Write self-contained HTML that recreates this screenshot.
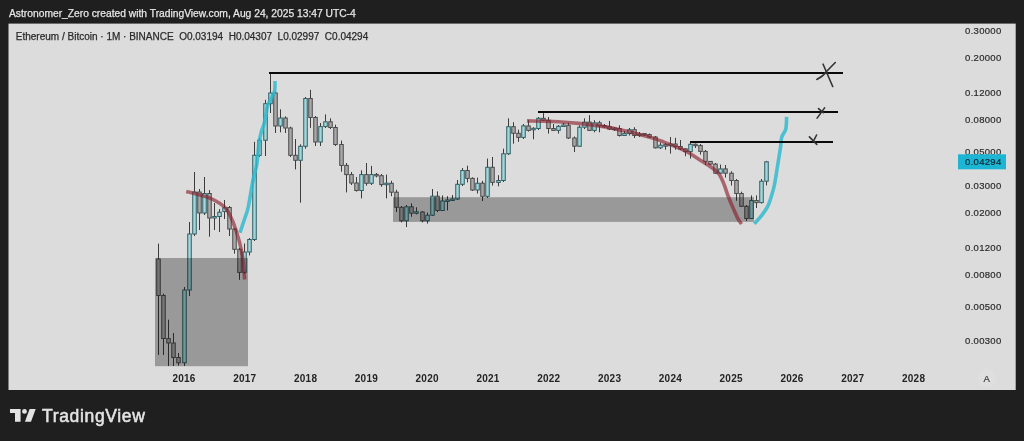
<!DOCTYPE html>
<html><head><meta charset="utf-8"><style>
html,body{margin:0;padding:0;background:#1f1f1f;-webkit-font-smoothing:antialiased;width:1024px;height:441px;overflow:hidden;position:relative;font-family:"Liberation Sans",sans-serif}
.hdr{will-change:transform;position:absolute;left:9px;top:7px;color:#e6e6e6;-webkit-text-stroke:0.25px #e6e6e6;font-size:10.27px;white-space:pre;line-height:14px}
.pl{font-size:9.5px;letter-spacing:0.3px;fill:#2b2b2b;stroke:#2b2b2b;stroke-width:0.2px;font-family:"Liberation Sans",sans-serif}
.yl{font-size:10px;letter-spacing:0.25px;font-weight:bold;fill:#242424;font-family:"Liberation Sans",sans-serif}
.al{font-size:9.6px;fill:#3a3a3a;stroke:#3a3a3a;stroke-width:0.2px;font-family:"Liberation Sans",sans-serif}
.ti{font-size:10px;fill:#2b2b2b;stroke:#2b2b2b;stroke-width:0.25px;white-space:pre;font-family:"Liberation Sans",sans-serif}
.logo{will-change:transform;position:absolute;left:41.8px;top:405px;color:#e3e3e3;font-size:17.5px;font-weight:normal;-webkit-text-stroke:0.55px #e3e3e3;line-height:22px;letter-spacing:0.66px}
</style></head><body>
<div class="hdr">Astronomer_Zero created with TradingView.com, Aug 24, 2025 13:47 UTC-4</div>
<svg width="1024" height="441" style="position:absolute;left:0;top:0;will-change:transform">
<defs><clipPath id="cp"><rect x="8.5" y="23.6" width="1007.2" height="366.4"/></clipPath></defs>
<rect x="8.5" y="23.6" width="1007.2" height="366.4" fill="#dcdcdc"/>
<g clip-path="url(#cp)">
<line x1="158.5" y1="243.6" x2="158.5" y2="355.0" stroke="#3c3c3c" stroke-width="1"/>
<rect x="156.75" y="259.0" width="3.5" height="36.5" fill="#a9a9a9" stroke="#4a4a4a" stroke-width="1"/>
<line x1="163.5" y1="293.6" x2="163.5" y2="355.0" stroke="#3c3c3c" stroke-width="1"/>
<rect x="161.75" y="295.5" width="3.5" height="43.0" fill="#a9a9a9" stroke="#4a4a4a" stroke-width="1"/>
<line x1="168.5" y1="319.7" x2="168.5" y2="366.0" stroke="#3c3c3c" stroke-width="1"/>
<rect x="166.75" y="338.5" width="3.5" height="4.5" fill="#a9a9a9" stroke="#4a4a4a" stroke-width="1"/>
<line x1="173.5" y1="333.0" x2="173.5" y2="366.0" stroke="#3c3c3c" stroke-width="1"/>
<rect x="171.75" y="343.0" width="3.5" height="14.5" fill="#a9a9a9" stroke="#4a4a4a" stroke-width="1"/>
<line x1="178.5" y1="353.0" x2="178.5" y2="365.7" stroke="#3c3c3c" stroke-width="1"/>
<rect x="176.75" y="357.5" width="3.5" height="5.3" fill="#a9a9a9" stroke="#4a4a4a" stroke-width="1"/>
<line x1="184.5" y1="287.0" x2="184.5" y2="366.0" stroke="#3c3c3c" stroke-width="1"/>
<rect x="182.75" y="290.0" width="3.5" height="72.8" fill="#a3d7db" stroke="#2e5f63" stroke-width="1"/>
<line x1="189.5" y1="222.0" x2="189.5" y2="296.0" stroke="#3c3c3c" stroke-width="1"/>
<rect x="187.75" y="234.0" width="3.5" height="56.0" fill="#a3d7db" stroke="#2e5f63" stroke-width="1"/>
<line x1="194.5" y1="172.0" x2="194.5" y2="236.0" stroke="#3c3c3c" stroke-width="1"/>
<rect x="192.75" y="192.0" width="3.5" height="42.0" fill="#a3d7db" stroke="#2e5f63" stroke-width="1"/>
<line x1="199.5" y1="189.0" x2="199.5" y2="230.0" stroke="#3c3c3c" stroke-width="1"/>
<rect x="197.75" y="192.0" width="3.5" height="21.0" fill="#a9a9a9" stroke="#4a4a4a" stroke-width="1"/>
<line x1="204.5" y1="177.0" x2="204.5" y2="215.0" stroke="#3c3c3c" stroke-width="1"/>
<rect x="202.75" y="193.5" width="3.5" height="19.5" fill="#a3d7db" stroke="#2e5f63" stroke-width="1"/>
<line x1="209.5" y1="190.0" x2="209.5" y2="236.7" stroke="#3c3c3c" stroke-width="1"/>
<rect x="207.75" y="193.5" width="3.5" height="24.5" fill="#a9a9a9" stroke="#4a4a4a" stroke-width="1"/>
<line x1="214.5" y1="203.0" x2="214.5" y2="230.0" stroke="#3c3c3c" stroke-width="1"/>
<rect x="212.75" y="216.5" width="3.5" height="1.5" fill="#a3d7db" stroke="#2e5f63" stroke-width="1"/>
<line x1="219.5" y1="209.0" x2="219.5" y2="232.0" stroke="#3c3c3c" stroke-width="1"/>
<rect x="217.75" y="212.2" width="3.5" height="4.3" fill="#a3d7db" stroke="#2e5f63" stroke-width="1"/>
<line x1="224.5" y1="200.0" x2="224.5" y2="219.0" stroke="#3c3c3c" stroke-width="1"/>
<rect x="222.75" y="207.8" width="3.5" height="3.6" fill="#a3d7db" stroke="#2e5f63" stroke-width="1"/>
<line x1="229.5" y1="206.0" x2="229.5" y2="236.0" stroke="#3c3c3c" stroke-width="1"/>
<rect x="227.75" y="207.5" width="3.5" height="21.5" fill="#a9a9a9" stroke="#4a4a4a" stroke-width="1"/>
<line x1="234.5" y1="228.0" x2="234.5" y2="253.7" stroke="#3c3c3c" stroke-width="1"/>
<rect x="232.75" y="229.0" width="3.5" height="20.3" fill="#a9a9a9" stroke="#4a4a4a" stroke-width="1"/>
<line x1="239.5" y1="248.0" x2="239.5" y2="279.8" stroke="#3c3c3c" stroke-width="1"/>
<rect x="237.75" y="249.3" width="3.5" height="23.1" fill="#a9a9a9" stroke="#4a4a4a" stroke-width="1"/>
<line x1="244.5" y1="243.5" x2="244.5" y2="274.0" stroke="#3c3c3c" stroke-width="1"/>
<rect x="242.75" y="252.0" width="3.5" height="20.4" fill="#a3d7db" stroke="#2e5f63" stroke-width="1"/>
<line x1="249.5" y1="238.0" x2="249.5" y2="255.4" stroke="#3c3c3c" stroke-width="1"/>
<rect x="247.75" y="239.5" width="3.5" height="12.5" fill="#a3d7db" stroke="#2e5f63" stroke-width="1"/>
<line x1="254.5" y1="141.8" x2="254.5" y2="241.0" stroke="#3c3c3c" stroke-width="1"/>
<rect x="252.75" y="155.3" width="3.5" height="84.2" fill="#a3d7db" stroke="#2e5f63" stroke-width="1"/>
<line x1="259.5" y1="138.0" x2="259.5" y2="157.0" stroke="#3c3c3c" stroke-width="1"/>
<rect x="257.75" y="140.2" width="3.5" height="15.1" fill="#a3d7db" stroke="#2e5f63" stroke-width="1"/>
<line x1="265.5" y1="99.8" x2="265.5" y2="156.0" stroke="#3c3c3c" stroke-width="1"/>
<rect x="263.75" y="103.7" width="3.5" height="36.5" fill="#a3d7db" stroke="#2e5f63" stroke-width="1"/>
<line x1="270.5" y1="73.0" x2="270.5" y2="113.0" stroke="#3c3c3c" stroke-width="1"/>
<rect x="268.75" y="93.0" width="3.5" height="10.7" fill="#a3d7db" stroke="#2e5f63" stroke-width="1"/>
<line x1="275.5" y1="91.0" x2="275.5" y2="133.0" stroke="#3c3c3c" stroke-width="1"/>
<rect x="273.75" y="93.0" width="3.5" height="33.0" fill="#a9a9a9" stroke="#4a4a4a" stroke-width="1"/>
<line x1="280.5" y1="109.3" x2="280.5" y2="132.3" stroke="#3c3c3c" stroke-width="1"/>
<rect x="278.75" y="118.0" width="3.5" height="8.0" fill="#a3d7db" stroke="#2e5f63" stroke-width="1"/>
<line x1="285.5" y1="116.4" x2="285.5" y2="133.0" stroke="#3c3c3c" stroke-width="1"/>
<rect x="283.75" y="118.0" width="3.5" height="10.0" fill="#a9a9a9" stroke="#4a4a4a" stroke-width="1"/>
<line x1="290.5" y1="126.7" x2="290.5" y2="157.0" stroke="#3c3c3c" stroke-width="1"/>
<rect x="288.75" y="128.0" width="3.5" height="27.3" fill="#a9a9a9" stroke="#4a4a4a" stroke-width="1"/>
<line x1="295.5" y1="139.0" x2="295.5" y2="169.4" stroke="#3c3c3c" stroke-width="1"/>
<rect x="293.75" y="155.3" width="3.5" height="5.0" fill="#a9a9a9" stroke="#4a4a4a" stroke-width="1"/>
<line x1="300.5" y1="144.4" x2="300.5" y2="202.7" stroke="#3c3c3c" stroke-width="1"/>
<rect x="298.75" y="146.3" width="3.5" height="14.0" fill="#a3d7db" stroke="#2e5f63" stroke-width="1"/>
<line x1="305.5" y1="97.0" x2="305.5" y2="148.7" stroke="#3c3c3c" stroke-width="1"/>
<rect x="303.75" y="98.5" width="3.5" height="47.8" fill="#a3d7db" stroke="#2e5f63" stroke-width="1"/>
<line x1="310.5" y1="89.8" x2="310.5" y2="127.9" stroke="#3c3c3c" stroke-width="1"/>
<rect x="308.75" y="98.5" width="3.5" height="19.0" fill="#a9a9a9" stroke="#4a4a4a" stroke-width="1"/>
<line x1="315.5" y1="116.0" x2="315.5" y2="146.0" stroke="#3c3c3c" stroke-width="1"/>
<rect x="313.75" y="117.5" width="3.5" height="24.5" fill="#a9a9a9" stroke="#4a4a4a" stroke-width="1"/>
<line x1="320.5" y1="123.0" x2="320.5" y2="146.0" stroke="#3c3c3c" stroke-width="1"/>
<rect x="318.75" y="126.6" width="3.5" height="15.4" fill="#a3d7db" stroke="#2e5f63" stroke-width="1"/>
<line x1="325.5" y1="114.4" x2="325.5" y2="128.0" stroke="#3c3c3c" stroke-width="1"/>
<rect x="323.75" y="121.8" width="3.5" height="4.8" fill="#a3d7db" stroke="#2e5f63" stroke-width="1"/>
<line x1="330.5" y1="118.3" x2="330.5" y2="129.0" stroke="#3c3c3c" stroke-width="1"/>
<rect x="328.75" y="121.8" width="3.5" height="5.7" fill="#a9a9a9" stroke="#4a4a4a" stroke-width="1"/>
<line x1="335.5" y1="124.7" x2="335.5" y2="146.0" stroke="#3c3c3c" stroke-width="1"/>
<rect x="333.75" y="127.5" width="3.5" height="17.0" fill="#a9a9a9" stroke="#4a4a4a" stroke-width="1"/>
<line x1="341.5" y1="140.6" x2="341.5" y2="171.7" stroke="#3c3c3c" stroke-width="1"/>
<rect x="339.75" y="144.5" width="3.5" height="20.9" fill="#a9a9a9" stroke="#4a4a4a" stroke-width="1"/>
<line x1="346.5" y1="163.0" x2="346.5" y2="192.4" stroke="#3c3c3c" stroke-width="1"/>
<rect x="344.75" y="165.4" width="3.5" height="9.2" fill="#a9a9a9" stroke="#4a4a4a" stroke-width="1"/>
<line x1="351.5" y1="172.0" x2="351.5" y2="185.0" stroke="#3c3c3c" stroke-width="1"/>
<rect x="349.75" y="174.6" width="3.5" height="8.4" fill="#a9a9a9" stroke="#4a4a4a" stroke-width="1"/>
<line x1="356.5" y1="177.0" x2="356.5" y2="191.6" stroke="#3c3c3c" stroke-width="1"/>
<rect x="354.75" y="183.0" width="3.5" height="7.5" fill="#a9a9a9" stroke="#4a4a4a" stroke-width="1"/>
<line x1="361.5" y1="170.3" x2="361.5" y2="198.4" stroke="#3c3c3c" stroke-width="1"/>
<rect x="359.75" y="174.6" width="3.5" height="15.9" fill="#a3d7db" stroke="#2e5f63" stroke-width="1"/>
<line x1="366.5" y1="163.0" x2="366.5" y2="185.7" stroke="#3c3c3c" stroke-width="1"/>
<rect x="364.75" y="174.6" width="3.5" height="8.7" fill="#a9a9a9" stroke="#4a4a4a" stroke-width="1"/>
<line x1="371.5" y1="165.9" x2="371.5" y2="185.0" stroke="#3c3c3c" stroke-width="1"/>
<rect x="369.75" y="174.6" width="3.5" height="8.7" fill="#a3d7db" stroke="#2e5f63" stroke-width="1"/>
<line x1="376.5" y1="173.0" x2="376.5" y2="177.3" stroke="#3c3c3c" stroke-width="1"/>
<rect x="374.75" y="174.4" width="3.5" height="1.5" fill="#a9a9a9" stroke="#4a4a4a" stroke-width="1"/>
<line x1="381.5" y1="174.0" x2="381.5" y2="186.8" stroke="#3c3c3c" stroke-width="1"/>
<rect x="379.75" y="175.7" width="3.5" height="8.9" fill="#a9a9a9" stroke="#4a4a4a" stroke-width="1"/>
<line x1="386.5" y1="174.6" x2="386.5" y2="198.4" stroke="#3c3c3c" stroke-width="1"/>
<rect x="384.75" y="183.2" width="3.5" height="1.5" fill="#a3d7db" stroke="#2e5f63" stroke-width="1"/>
<line x1="391.5" y1="180.8" x2="391.5" y2="196.2" stroke="#3c3c3c" stroke-width="1"/>
<rect x="389.75" y="183.3" width="3.5" height="8.9" fill="#a9a9a9" stroke="#4a4a4a" stroke-width="1"/>
<line x1="396.5" y1="189.8" x2="396.5" y2="212.0" stroke="#3c3c3c" stroke-width="1"/>
<rect x="394.75" y="192.2" width="3.5" height="15.1" fill="#a9a9a9" stroke="#4a4a4a" stroke-width="1"/>
<line x1="401.5" y1="206.0" x2="401.5" y2="222.4" stroke="#3c3c3c" stroke-width="1"/>
<rect x="399.75" y="207.3" width="3.5" height="13.5" fill="#a9a9a9" stroke="#4a4a4a" stroke-width="1"/>
<line x1="406.5" y1="205.0" x2="406.5" y2="227.1" stroke="#3c3c3c" stroke-width="1"/>
<rect x="404.75" y="206.8" width="3.5" height="14.0" fill="#a3d7db" stroke="#2e5f63" stroke-width="1"/>
<line x1="411.5" y1="203.3" x2="411.5" y2="216.8" stroke="#3c3c3c" stroke-width="1"/>
<rect x="409.75" y="206.8" width="3.5" height="6.4" fill="#a9a9a9" stroke="#4a4a4a" stroke-width="1"/>
<line x1="416.5" y1="207.3" x2="416.5" y2="214.4" stroke="#3c3c3c" stroke-width="1"/>
<rect x="414.75" y="211.8" width="3.5" height="1.5" fill="#a3d7db" stroke="#2e5f63" stroke-width="1"/>
<line x1="422.5" y1="211.0" x2="422.5" y2="222.4" stroke="#3c3c3c" stroke-width="1"/>
<rect x="420.75" y="212.0" width="3.5" height="8.8" fill="#a9a9a9" stroke="#4a4a4a" stroke-width="1"/>
<line x1="427.5" y1="212.5" x2="427.5" y2="223.6" stroke="#3c3c3c" stroke-width="1"/>
<rect x="425.75" y="215.2" width="3.5" height="5.6" fill="#a3d7db" stroke="#2e5f63" stroke-width="1"/>
<line x1="432.5" y1="189.0" x2="432.5" y2="216.0" stroke="#3c3c3c" stroke-width="1"/>
<rect x="430.75" y="196.2" width="3.5" height="19.0" fill="#a3d7db" stroke="#2e5f63" stroke-width="1"/>
<line x1="437.5" y1="191.4" x2="437.5" y2="212.0" stroke="#3c3c3c" stroke-width="1"/>
<rect x="435.75" y="196.2" width="3.5" height="14.3" fill="#a9a9a9" stroke="#4a4a4a" stroke-width="1"/>
<line x1="442.5" y1="195.4" x2="442.5" y2="211.0" stroke="#3c3c3c" stroke-width="1"/>
<rect x="440.75" y="201.0" width="3.5" height="9.5" fill="#a3d7db" stroke="#2e5f63" stroke-width="1"/>
<line x1="447.5" y1="196.2" x2="447.5" y2="210.5" stroke="#3c3c3c" stroke-width="1"/>
<rect x="445.75" y="200.0" width="3.5" height="1.5" fill="#a3d7db" stroke="#2e5f63" stroke-width="1"/>
<line x1="452.5" y1="195.0" x2="452.5" y2="201.0" stroke="#3c3c3c" stroke-width="1"/>
<rect x="450.75" y="199.0" width="3.5" height="1.5" fill="#a3d7db" stroke="#2e5f63" stroke-width="1"/>
<line x1="457.5" y1="180.0" x2="457.5" y2="200.0" stroke="#3c3c3c" stroke-width="1"/>
<rect x="455.75" y="184.3" width="3.5" height="14.7" fill="#a3d7db" stroke="#2e5f63" stroke-width="1"/>
<line x1="462.5" y1="168.0" x2="462.5" y2="186.0" stroke="#3c3c3c" stroke-width="1"/>
<rect x="460.75" y="170.5" width="3.5" height="13.8" fill="#a3d7db" stroke="#2e5f63" stroke-width="1"/>
<line x1="467.5" y1="165.7" x2="467.5" y2="182.4" stroke="#3c3c3c" stroke-width="1"/>
<rect x="465.75" y="170.5" width="3.5" height="7.9" fill="#a9a9a9" stroke="#4a4a4a" stroke-width="1"/>
<line x1="472.5" y1="177.3" x2="472.5" y2="191.0" stroke="#3c3c3c" stroke-width="1"/>
<rect x="470.75" y="178.4" width="3.5" height="11.6" fill="#a9a9a9" stroke="#4a4a4a" stroke-width="1"/>
<line x1="477.5" y1="177.6" x2="477.5" y2="193.5" stroke="#3c3c3c" stroke-width="1"/>
<rect x="475.75" y="183.2" width="3.5" height="6.8" fill="#a3d7db" stroke="#2e5f63" stroke-width="1"/>
<line x1="482.5" y1="180.8" x2="482.5" y2="201.0" stroke="#3c3c3c" stroke-width="1"/>
<rect x="480.75" y="183.2" width="3.5" height="13.1" fill="#a9a9a9" stroke="#4a4a4a" stroke-width="1"/>
<line x1="487.5" y1="158.6" x2="487.5" y2="198.0" stroke="#3c3c3c" stroke-width="1"/>
<rect x="485.75" y="167.3" width="3.5" height="29.0" fill="#a3d7db" stroke="#2e5f63" stroke-width="1"/>
<line x1="492.5" y1="157.0" x2="492.5" y2="185.6" stroke="#3c3c3c" stroke-width="1"/>
<rect x="490.75" y="167.3" width="3.5" height="15.1" fill="#a9a9a9" stroke="#4a4a4a" stroke-width="1"/>
<line x1="498.5" y1="175.2" x2="498.5" y2="186.3" stroke="#3c3c3c" stroke-width="1"/>
<rect x="496.75" y="180.5" width="3.5" height="1.9" fill="#a3d7db" stroke="#2e5f63" stroke-width="1"/>
<line x1="503.5" y1="148.7" x2="503.5" y2="182.0" stroke="#3c3c3c" stroke-width="1"/>
<rect x="501.75" y="153.8" width="3.5" height="26.7" fill="#a3d7db" stroke="#2e5f63" stroke-width="1"/>
<line x1="508.5" y1="118.3" x2="508.5" y2="155.0" stroke="#3c3c3c" stroke-width="1"/>
<rect x="506.75" y="126.7" width="3.5" height="27.1" fill="#a3d7db" stroke="#2e5f63" stroke-width="1"/>
<line x1="513.5" y1="122.2" x2="513.5" y2="143.7" stroke="#3c3c3c" stroke-width="1"/>
<rect x="511.75" y="126.7" width="3.5" height="6.6" fill="#a9a9a9" stroke="#4a4a4a" stroke-width="1"/>
<line x1="518.5" y1="129.7" x2="518.5" y2="141.8" stroke="#3c3c3c" stroke-width="1"/>
<rect x="516.75" y="133.3" width="3.5" height="4.1" fill="#a9a9a9" stroke="#4a4a4a" stroke-width="1"/>
<line x1="523.5" y1="124.0" x2="523.5" y2="139.0" stroke="#3c3c3c" stroke-width="1"/>
<rect x="521.75" y="125.9" width="3.5" height="11.5" fill="#a3d7db" stroke="#2e5f63" stroke-width="1"/>
<line x1="528.5" y1="120.2" x2="528.5" y2="131.6" stroke="#3c3c3c" stroke-width="1"/>
<rect x="526.75" y="125.9" width="3.5" height="4.5" fill="#a9a9a9" stroke="#4a4a4a" stroke-width="1"/>
<line x1="533.5" y1="127.2" x2="533.5" y2="139.3" stroke="#3c3c3c" stroke-width="1"/>
<rect x="531.75" y="128.3" width="3.5" height="1.5" fill="#a3d7db" stroke="#2e5f63" stroke-width="1"/>
<line x1="538.5" y1="117.0" x2="538.5" y2="130.0" stroke="#3c3c3c" stroke-width="1"/>
<rect x="536.75" y="118.3" width="3.5" height="10.2" fill="#a3d7db" stroke="#2e5f63" stroke-width="1"/>
<line x1="543.5" y1="113.2" x2="543.5" y2="121.0" stroke="#3c3c3c" stroke-width="1"/>
<rect x="541.75" y="118.3" width="3.5" height="1.9" fill="#a9a9a9" stroke="#4a4a4a" stroke-width="1"/>
<line x1="548.5" y1="117.0" x2="548.5" y2="133.6" stroke="#3c3c3c" stroke-width="1"/>
<rect x="546.75" y="120.2" width="3.5" height="8.3" fill="#a9a9a9" stroke="#4a4a4a" stroke-width="1"/>
<line x1="553.5" y1="124.0" x2="553.5" y2="131.0" stroke="#3c3c3c" stroke-width="1"/>
<rect x="551.75" y="128.5" width="3.5" height="1.9" fill="#a9a9a9" stroke="#4a4a4a" stroke-width="1"/>
<line x1="558.5" y1="125.0" x2="558.5" y2="133.6" stroke="#3c3c3c" stroke-width="1"/>
<rect x="556.75" y="126.3" width="3.5" height="4.1" fill="#a3d7db" stroke="#2e5f63" stroke-width="1"/>
<line x1="563.5" y1="123.0" x2="563.5" y2="127.0" stroke="#3c3c3c" stroke-width="1"/>
<rect x="561.75" y="125.0" width="3.5" height="1.5" fill="#a3d7db" stroke="#2e5f63" stroke-width="1"/>
<line x1="568.5" y1="122.8" x2="568.5" y2="139.0" stroke="#3c3c3c" stroke-width="1"/>
<rect x="566.75" y="125.3" width="3.5" height="12.7" fill="#a9a9a9" stroke="#4a4a4a" stroke-width="1"/>
<line x1="574.5" y1="136.5" x2="574.5" y2="152.0" stroke="#3c3c3c" stroke-width="1"/>
<rect x="572.75" y="138.0" width="3.5" height="8.2" fill="#a9a9a9" stroke="#4a4a4a" stroke-width="1"/>
<line x1="579.5" y1="125.4" x2="579.5" y2="147.0" stroke="#3c3c3c" stroke-width="1"/>
<rect x="577.75" y="127.2" width="3.5" height="19.0" fill="#a3d7db" stroke="#2e5f63" stroke-width="1"/>
<line x1="584.5" y1="118.3" x2="584.5" y2="129.1" stroke="#3c3c3c" stroke-width="1"/>
<rect x="582.75" y="122.1" width="3.5" height="5.1" fill="#a3d7db" stroke="#2e5f63" stroke-width="1"/>
<line x1="589.5" y1="115.2" x2="589.5" y2="131.0" stroke="#3c3c3c" stroke-width="1"/>
<rect x="587.75" y="122.1" width="3.5" height="8.3" fill="#a9a9a9" stroke="#4a4a4a" stroke-width="1"/>
<line x1="594.5" y1="120.2" x2="594.5" y2="132.3" stroke="#3c3c3c" stroke-width="1"/>
<rect x="592.75" y="122.8" width="3.5" height="7.6" fill="#a3d7db" stroke="#2e5f63" stroke-width="1"/>
<line x1="599.5" y1="120.9" x2="599.5" y2="132.3" stroke="#3c3c3c" stroke-width="1"/>
<rect x="597.75" y="122.8" width="3.5" height="3.1" fill="#a9a9a9" stroke="#4a4a4a" stroke-width="1"/>
<line x1="604.5" y1="124.0" x2="604.5" y2="127.5" stroke="#3c3c3c" stroke-width="1"/>
<rect x="602.75" y="125.5" width="3.5" height="1.5" fill="#a9a9a9" stroke="#4a4a4a" stroke-width="1"/>
<line x1="609.5" y1="120.9" x2="609.5" y2="130.0" stroke="#3c3c3c" stroke-width="1"/>
<rect x="607.75" y="126.6" width="3.5" height="2.5" fill="#a9a9a9" stroke="#4a4a4a" stroke-width="1"/>
<line x1="614.5" y1="127.0" x2="614.5" y2="131.0" stroke="#3c3c3c" stroke-width="1"/>
<rect x="612.75" y="128.1" width="3.5" height="1.5" fill="#a3d7db" stroke="#2e5f63" stroke-width="1"/>
<line x1="619.5" y1="125.3" x2="619.5" y2="136.5" stroke="#3c3c3c" stroke-width="1"/>
<rect x="617.75" y="128.5" width="3.5" height="7.0" fill="#a9a9a9" stroke="#4a4a4a" stroke-width="1"/>
<line x1="624.5" y1="131.0" x2="624.5" y2="136.0" stroke="#3c3c3c" stroke-width="1"/>
<rect x="622.75" y="133.6" width="3.5" height="1.9" fill="#a3d7db" stroke="#2e5f63" stroke-width="1"/>
<line x1="629.5" y1="128.0" x2="629.5" y2="135.5" stroke="#3c3c3c" stroke-width="1"/>
<rect x="627.75" y="129.7" width="3.5" height="3.9" fill="#a3d7db" stroke="#2e5f63" stroke-width="1"/>
<line x1="634.5" y1="127.2" x2="634.5" y2="138.0" stroke="#3c3c3c" stroke-width="1"/>
<rect x="632.75" y="129.7" width="3.5" height="5.8" fill="#a9a9a9" stroke="#4a4a4a" stroke-width="1"/>
<line x1="639.5" y1="132.0" x2="639.5" y2="137.0" stroke="#3c3c3c" stroke-width="1"/>
<rect x="637.75" y="134.0" width="3.5" height="1.5" fill="#a3d7db" stroke="#2e5f63" stroke-width="1"/>
<line x1="644.5" y1="133.0" x2="644.5" y2="136.0" stroke="#3c3c3c" stroke-width="1"/>
<rect x="642.75" y="133.6" width="3.5" height="1.5" fill="#a9a9a9" stroke="#4a4a4a" stroke-width="1"/>
<line x1="649.5" y1="133.5" x2="649.5" y2="138.0" stroke="#3c3c3c" stroke-width="1"/>
<rect x="647.75" y="134.6" width="3.5" height="2.4" fill="#a9a9a9" stroke="#4a4a4a" stroke-width="1"/>
<line x1="655.5" y1="136.0" x2="655.5" y2="148.5" stroke="#3c3c3c" stroke-width="1"/>
<rect x="653.75" y="137.0" width="3.5" height="10.8" fill="#a9a9a9" stroke="#4a4a4a" stroke-width="1"/>
<line x1="660.5" y1="142.5" x2="660.5" y2="149.0" stroke="#3c3c3c" stroke-width="1"/>
<rect x="658.75" y="145.2" width="3.5" height="2.6" fill="#a3d7db" stroke="#2e5f63" stroke-width="1"/>
<line x1="665.5" y1="143.0" x2="665.5" y2="149.7" stroke="#3c3c3c" stroke-width="1"/>
<rect x="663.75" y="144.7" width="3.5" height="1.5" fill="#a9a9a9" stroke="#4a4a4a" stroke-width="1"/>
<line x1="670.5" y1="137.0" x2="670.5" y2="153.6" stroke="#3c3c3c" stroke-width="1"/>
<rect x="668.75" y="144.0" width="3.5" height="1.7" fill="#a3d7db" stroke="#2e5f63" stroke-width="1"/>
<line x1="675.5" y1="137.8" x2="675.5" y2="149.7" stroke="#3c3c3c" stroke-width="1"/>
<rect x="673.75" y="144.0" width="3.5" height="2.5" fill="#a9a9a9" stroke="#4a4a4a" stroke-width="1"/>
<line x1="680.5" y1="140.0" x2="680.5" y2="150.0" stroke="#3c3c3c" stroke-width="1"/>
<rect x="678.75" y="146.5" width="3.5" height="2.4" fill="#a9a9a9" stroke="#4a4a4a" stroke-width="1"/>
<line x1="685.5" y1="148.3" x2="685.5" y2="156.2" stroke="#3c3c3c" stroke-width="1"/>
<rect x="683.75" y="148.9" width="3.5" height="2.7" fill="#a9a9a9" stroke="#4a4a4a" stroke-width="1"/>
<line x1="690.5" y1="143.0" x2="690.5" y2="158.6" stroke="#3c3c3c" stroke-width="1"/>
<rect x="688.75" y="144.3" width="3.5" height="7.3" fill="#a3d7db" stroke="#2e5f63" stroke-width="1"/>
<line x1="695.5" y1="143.5" x2="695.5" y2="148.0" stroke="#3c3c3c" stroke-width="1"/>
<rect x="693.75" y="144.2" width="3.5" height="1.5" fill="#a9a9a9" stroke="#4a4a4a" stroke-width="1"/>
<line x1="700.5" y1="144.0" x2="700.5" y2="154.6" stroke="#3c3c3c" stroke-width="1"/>
<rect x="698.75" y="145.6" width="3.5" height="5.8" fill="#a9a9a9" stroke="#4a4a4a" stroke-width="1"/>
<line x1="705.5" y1="150.0" x2="705.5" y2="165.0" stroke="#3c3c3c" stroke-width="1"/>
<rect x="703.75" y="151.4" width="3.5" height="10.0" fill="#a9a9a9" stroke="#4a4a4a" stroke-width="1"/>
<line x1="710.5" y1="161.0" x2="710.5" y2="165.0" stroke="#3c3c3c" stroke-width="1"/>
<rect x="708.75" y="161.4" width="3.5" height="2.7" fill="#a9a9a9" stroke="#4a4a4a" stroke-width="1"/>
<line x1="715.5" y1="163.0" x2="715.5" y2="174.0" stroke="#3c3c3c" stroke-width="1"/>
<rect x="713.75" y="164.1" width="3.5" height="9.1" fill="#a9a9a9" stroke="#4a4a4a" stroke-width="1"/>
<line x1="720.5" y1="164.6" x2="720.5" y2="174.0" stroke="#3c3c3c" stroke-width="1"/>
<rect x="718.75" y="168.9" width="3.5" height="4.3" fill="#a3d7db" stroke="#2e5f63" stroke-width="1"/>
<line x1="725.5" y1="165.0" x2="725.5" y2="177.6" stroke="#3c3c3c" stroke-width="1"/>
<rect x="723.75" y="168.9" width="3.5" height="4.3" fill="#a9a9a9" stroke="#4a4a4a" stroke-width="1"/>
<line x1="731.5" y1="171.3" x2="731.5" y2="185.6" stroke="#3c3c3c" stroke-width="1"/>
<rect x="729.75" y="173.2" width="3.5" height="7.3" fill="#a9a9a9" stroke="#4a4a4a" stroke-width="1"/>
<line x1="736.5" y1="179.0" x2="736.5" y2="200.8" stroke="#3c3c3c" stroke-width="1"/>
<rect x="734.75" y="180.5" width="3.5" height="13.0" fill="#a9a9a9" stroke="#4a4a4a" stroke-width="1"/>
<line x1="741.5" y1="191.7" x2="741.5" y2="207.0" stroke="#3c3c3c" stroke-width="1"/>
<rect x="739.75" y="193.5" width="3.5" height="12.8" fill="#a9a9a9" stroke="#4a4a4a" stroke-width="1"/>
<line x1="746.5" y1="205.0" x2="746.5" y2="221.0" stroke="#3c3c3c" stroke-width="1"/>
<rect x="744.75" y="206.3" width="3.5" height="12.2" fill="#a9a9a9" stroke="#4a4a4a" stroke-width="1"/>
<line x1="751.5" y1="195.4" x2="751.5" y2="219.0" stroke="#3c3c3c" stroke-width="1"/>
<rect x="749.75" y="200.5" width="3.5" height="18.0" fill="#a3d7db" stroke="#2e5f63" stroke-width="1"/>
<line x1="756.5" y1="195.4" x2="756.5" y2="208.0" stroke="#3c3c3c" stroke-width="1"/>
<rect x="754.75" y="200.5" width="3.5" height="2.1" fill="#a9a9a9" stroke="#4a4a4a" stroke-width="1"/>
<line x1="761.5" y1="179.0" x2="761.5" y2="203.5" stroke="#3c3c3c" stroke-width="1"/>
<rect x="759.75" y="181.2" width="3.5" height="21.4" fill="#a3d7db" stroke="#2e5f63" stroke-width="1"/>
<line x1="766.5" y1="160.9" x2="766.5" y2="185.4" stroke="#3c3c3c" stroke-width="1"/>
<rect x="764.75" y="161.8" width="3.5" height="19.4" fill="#a3d7db" stroke="#2e5f63" stroke-width="1"/>
<rect x="155" y="258" width="93" height="108.2" fill="rgba(0,0,0,0.30)"/>
<rect x="393" y="197.2" width="361" height="24.7" fill="rgba(0,0,0,0.30)"/>
<path d="M186.2,191.5 C188.2,192.0 194.2,193.4 198.2,194.5 C202.2,195.6 206.4,196.7 210.0,198.2 C213.6,199.7 217.2,201.8 220.0,203.6 C222.8,205.4 224.3,206.1 226.5,209.2 C228.7,212.3 230.9,216.6 233.0,222.0 C235.1,227.4 237.7,235.2 239.3,241.4 C241.0,247.7 242.0,253.2 242.9,259.5 C243.8,265.9 244.4,276.2 244.7,279.5" fill="none" stroke="rgba(135,28,40,0.62)" stroke-width="3.6" stroke-linecap="butt"/>
<path d="M527,120.9 C531.3,121.0 544.4,121.1 553.0,121.5 C561.6,121.9 570.0,122.6 578.5,123.4 C587.0,124.2 595.2,125.2 603.8,126.6 C612.4,128.0 623.8,130.6 630.0,132.0 C636.2,133.4 637.5,134.0 641.3,135.0 C645.1,136.0 648.9,136.9 652.7,138.1 C656.5,139.3 660.2,140.7 664.0,142.1 C667.8,143.5 671.6,145.0 675.4,146.6 C679.2,148.2 682.3,149.3 686.7,151.7 C691.1,154.1 697.5,158.4 701.6,161.0 C705.7,163.6 708.3,165.0 711.2,167.2 C714.1,169.3 716.8,171.2 718.9,173.9 C721.0,176.6 722.1,179.7 723.7,183.5 C725.3,187.3 726.9,192.8 728.5,197.0 C730.1,201.2 731.8,204.9 733.4,208.6 C735.0,212.3 736.8,216.6 738.2,219.2 C739.6,221.8 741.0,223.2 741.6,224.0" fill="none" stroke="rgba(135,28,40,0.62)" stroke-width="3.6" stroke-linecap="butt"/>
<path d="M240,232.7 C240.7,230.6 242.8,224.2 244.2,220.0 C245.6,215.8 246.8,213.7 248.2,207.3 C249.6,200.9 251.3,188.9 252.7,181.8 C254.1,174.8 255.8,169.4 256.7,165.0 C257.6,160.6 257.4,159.0 257.8,155.3 C258.2,151.6 258.4,146.6 259.0,142.6 C259.6,138.6 260.6,134.6 261.4,131.5 C262.2,128.4 263.2,126.8 264.0,124.0 C264.8,121.2 265.4,118.0 266.0,115.0 C266.6,112.0 266.7,108.7 267.5,106.0 C268.3,103.3 269.8,101.5 271.0,99.0 C272.2,96.5 273.9,94.0 274.6,91.0 C275.3,88.0 274.9,82.7 275.0,81.0" fill="none" stroke="rgba(40,185,205,0.8)" stroke-width="3.6" stroke-linecap="butt"/>
<path d="M754.4,223.8 C755.6,222.4 759.3,218.5 761.5,215.6 C763.7,212.7 766.0,209.8 767.7,206.4 C769.4,203.0 770.6,198.8 771.7,195.2 C772.8,191.5 773.5,189.5 774.5,184.5 C775.5,179.5 776.7,171.1 777.7,165.0 C778.7,158.9 779.7,152.7 780.4,148.1 C781.1,143.5 780.8,140.4 781.7,137.2 C782.6,134.0 785.0,132.4 785.8,129.0 C786.6,125.6 786.5,118.8 786.6,116.8" fill="none" stroke="rgba(40,185,205,0.8)" stroke-width="3.6" stroke-linecap="butt"/>
<line x1="269" y1="73" x2="843" y2="73" stroke="#0a0a0a" stroke-width="2"/>
<line x1="538" y1="112" x2="838" y2="112" stroke="#0a0a0a" stroke-width="2"/>
<line x1="690" y1="142" x2="833" y2="142" stroke="#0a0a0a" stroke-width="2"/>
<g stroke="#333" stroke-width="1.6" fill="none" stroke-linecap="round">
<path d="M823.1,64.2 L832.7,86.5"/>
<path d="M816.8,79.5 Q823,76.5 826.5,71.5 L835.3,62.5"/>
<path d="M817.1,118.1 L824.6,107.9"/>
<path d="M818.5,108.6 L823.3,112.7"/>
<path d="M809.4,136.9 L816.8,144.4"/>
<path d="M813.4,141.1 L816.6,135"/>
</g>
<text x="1001.5" y="34.1" text-anchor="end" class="pl">0.30000</text><text x="1001.5" y="61.4" text-anchor="end" class="pl">0.20000</text><text x="1001.5" y="95.8" text-anchor="end" class="pl">0.12000</text><text x="1001.5" y="123.1" text-anchor="end" class="pl">0.08000</text><text x="1001.5" y="154.7" text-anchor="end" class="pl">0.05000</text><text x="1001.5" y="189.1" text-anchor="end" class="pl">0.03000</text><text x="1001.5" y="216.4" text-anchor="end" class="pl">0.02000</text><text x="1001.5" y="250.8" text-anchor="end" class="pl">0.01200</text><text x="1001.5" y="278.1" text-anchor="end" class="pl">0.00800</text><text x="1001.5" y="309.7" text-anchor="end" class="pl">0.00500</text><text x="1001.5" y="344.1" text-anchor="end" class="pl">0.00300</text>
<rect x="958" y="154.3" width="48" height="15" fill="#1cb5d3"/>
<text x="1001.5" y="165.0" text-anchor="end" class="pl" style="fill:#0a2630;stroke:#0a2630">0.04294</text>
<text x="184.0" y="381.7" text-anchor="middle" class="yl">2016</text><text x="244.8" y="381.7" text-anchor="middle" class="yl">2017</text><text x="305.6" y="381.7" text-anchor="middle" class="yl">2018</text><text x="366.4" y="381.7" text-anchor="middle" class="yl">2019</text><text x="427.2" y="381.7" text-anchor="middle" class="yl">2020</text><text x="488.0" y="381.7" text-anchor="middle" class="yl">2021</text><text x="548.8" y="381.7" text-anchor="middle" class="yl">2022</text><text x="609.6" y="381.7" text-anchor="middle" class="yl">2023</text><text x="670.4" y="381.7" text-anchor="middle" class="yl">2024</text><text x="731.2" y="381.7" text-anchor="middle" class="yl">2025</text><text x="792.0" y="381.7" text-anchor="middle" class="yl">2026</text><text x="852.8" y="381.7" text-anchor="middle" class="yl">2027</text><text x="913.6" y="381.7" text-anchor="middle" class="yl">2028</text>
<circle cx="987" cy="378.3" r="9" fill="#dfdfdf"/>
<text x="986.8" y="381.9" text-anchor="middle" class="al">A</text>
<text x="15.8" y="39.7" class="ti">Ethereum / Bitcoin · 1M · BINANCE  O0.03194  H0.04307  L0.02997  C0.04294</text>
</g>
</svg>
<svg width="40" height="30" style="position:absolute;left:0;top:400px">
<g fill="#e3e3e3">
<path d="M10,9.1 H20.6 V21.8 H15 V12.9 H10 Z"/>
<circle cx="24.5" cy="11.4" r="2.4"/>
<path d="M29.6,9.1 H35.7 L31,21.8 H24.9 Z"/>
</g></svg>
<div class="logo">TradingView</div>
</body></html>
